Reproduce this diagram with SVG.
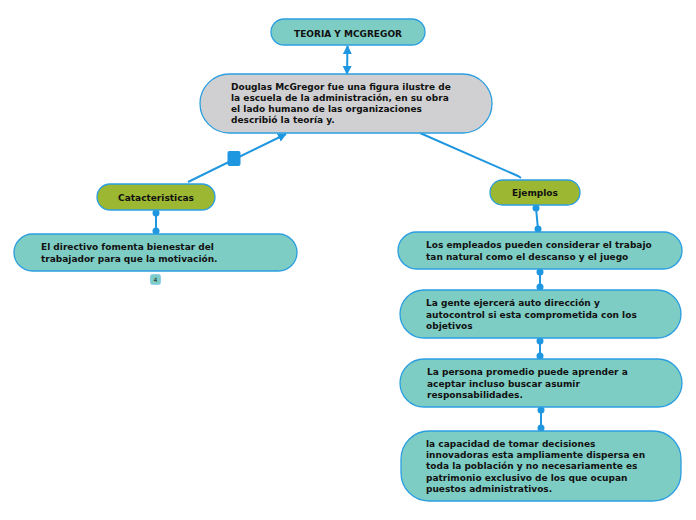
<svg xmlns="http://www.w3.org/2000/svg" width="696" height="520" viewBox="0 0 696 520">
<defs>
<style>
.n{stroke:#2b9ee0;stroke-width:1.3}
.teal{fill:#7ecdc4}
.gray{fill:#d0d0d2}
.green{fill:#9cb731}
text{font-family:"DejaVu Sans",Verdana,sans-serif;font-weight:bold;font-size:9px;fill:#111}
.c{text-anchor:middle}
.e{stroke:#1e96e0;stroke-width:2;fill:none}
.d{fill:#1e96e0}
</style>
<marker id="ah2" viewBox="0 0 10 10" refX="9" refY="5" markerWidth="9" markerHeight="9" orient="auto-start-reverse" markerUnits="userSpaceOnUse">
<path d="M0,0 L10,5 L0,10 z" fill="#1e96e0"/>
</marker>
</defs>
<rect width="696" height="520" fill="#fff"/>
<g id="connectors">
<line class="e" x1="347.5" y1="46" x2="347" y2="74" marker-start="url(#ah2)" marker-end="url(#ah2)"/>
<line class="e" x1="188" y1="182" x2="286" y2="134" marker-end="url(#ah2)"/>
<rect class="d" x="227.5" y="151" width="13" height="15" rx="2"/>
<path class="e" d="M420,133 L518,176 L521,178"/>
<line class="e" x1="156" y1="213" x2="156" y2="231"/>
<circle class="d" cx="156" cy="213" r="3.5"/>
<circle class="d" cx="156" cy="231" r="3.5"/>
<line class="e" x1="536" y1="208" x2="538" y2="229"/>
<circle class="d" cx="536" cy="208" r="3.5"/>
<circle class="d" cx="538" cy="229" r="3.5"/>
<line class="e" x1="540" y1="272" x2="540" y2="287"/>
<circle class="d" cx="540" cy="272" r="3.5"/>
<circle class="d" cx="540" cy="287" r="3.5"/>
<line class="e" x1="540" y1="341" x2="540" y2="356"/>
<circle class="d" cx="540" cy="341" r="3.5"/>
<circle class="d" cx="540" cy="356" r="3.5"/>
<line class="e" x1="541" y1="410" x2="541" y2="428"/>
<circle class="d" cx="541" cy="410" r="3.5"/>
<circle class="d" cx="541" cy="428" r="3.5"/>
</g>
<g id="title">
<rect class="n teal" x="271" y="19" width="154" height="26" rx="13"/>
<text class="c" x="348" y="36.5" style="font-size:9px">TEORIA Y MCGREGOR</text>
</g>
<g id="main">
<rect class="n gray" x="200" y="74" width="292" height="59" rx="29.5"/>
<text x="231" y="90">Douglas McGregor fue una figura ilustre de</text>
<text x="231" y="101">la escuela de la administración, en su obra</text>
<text x="231" y="112">el lado humano de las organizaciones</text>
<text x="231" y="123">describió la teoría y.</text>
</g>
<g id="caracteristicas">
<rect class="n green" x="97" y="184" width="118" height="26" rx="13"/>
<text class="c" x="156" y="201">Catacteristicas</text>
</g>
<g id="directivo">
<rect class="n teal" x="14" y="234" width="283" height="37" rx="18.5"/>
<text x="41" y="250">El directivo fomenta bienestar del</text>
<text x="41" y="262">trabajador para que la motivación.</text>
<rect x="150.5" y="274.5" width="10" height="10" rx="2" fill="#7ecdc4" stroke="#8fd0f0" stroke-width="1"/>
<text class="c" x="155.5" y="282" style="font-size:6px;font-weight:normal">4</text>
</g>
<g id="ejemplos">
<rect class="n green" x="490" y="180" width="90" height="25" rx="12.5"/>
<text class="c" x="535" y="196">Ejemplos</text>
</g>
<g id="ej1">
<rect class="n teal" x="398" y="232" width="284" height="37" rx="18.5"/>
<text x="426" y="248">Los empleados pueden considerar el trabajo</text>
<text x="426" y="260">tan natural como el descanso y el juego</text>
</g>
<g id="ej2">
<rect class="n teal" x="400" y="290" width="281" height="48" rx="24"/>
<text x="426" y="306">La gente ejercerá auto dirección y</text>
<text x="426" y="318">autocontrol si esta comprometida con los</text>
<text x="426" y="329">objetivos</text>
</g>
<g id="ej3">
<rect class="n teal" x="400" y="359" width="282" height="48" rx="24"/>
<text x="427" y="375">La persona promedio puede aprender a</text>
<text x="427" y="387">aceptar incluso buscar asumir</text>
<text x="427" y="398">responsabilidades.</text>
</g>
<g id="ej4">
<rect class="n teal" x="401" y="431" width="280" height="70" rx="28"/>
<text x="426" y="447">la capacidad de tomar decisiones</text>
<text x="426" y="458">innovadoras esta ampliamente dispersa en</text>
<text x="426" y="469">toda la población y no necesariamente es</text>
<text x="426" y="481">patrimonio exclusivo de los que ocupan</text>
<text x="426" y="492">puestos administrativos.</text>
</g>
</svg>
